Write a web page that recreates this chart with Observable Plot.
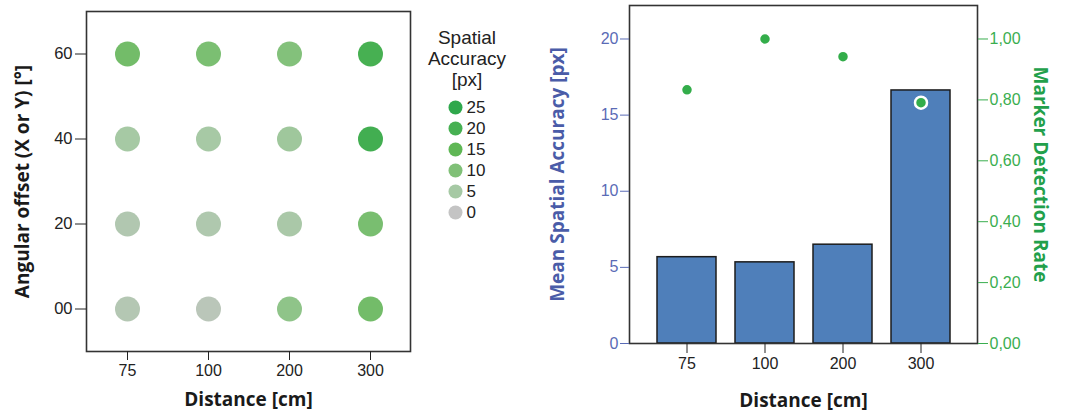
<!DOCTYPE html>
<html>
<head>
<meta charset="utf-8">
<script src="https://cdn.jsdelivr.net/npm/d3@7"></script>
<script src="https://cdn.jsdelivr.net/npm/@observablehq/plot@0.6"></script>
<style>
  body { margin: 0; background: #fff; }
  #wrap { position: relative; width: 1070px; height: 414px; overflow: hidden; }
  #wrap > * { position: absolute; top: 0; }
  #legendTitle { left: 420px; top: 27px; width: 94px; text-align: center;
    font: 19px/21px "Liberation Sans", Arial, sans-serif; color: #222; }
</style>
</head>
<body>
<div id="wrap"></div>
<script>
// ---------- data ----------
const distances = ["75", "100", "200", "300"];
const offsets = [0, 20, 40, 60];
const offsetTickLabels = ["00", "20", "40", "60"];
// spatial accuracy [px] per angular offset row, columns = distances
const accOffset0 = [2.7, 1.7, 8.0, 12.0];
const accOffset20 = [3.2, 3.5, 4.3, 11.0];
const accOffset40 = [5.0, 4.9, 5.9, 21.0];
const accOffset60 = [12.0, 10.7, 9.6, 20.0];
const legendValues = [25, 20, 15, 10, 5, 0];
const legendColors = ["#2fa84c", "#47b052", "#5fb755", "#80c077", "#a6c9a4", "#c4c4c4"];
const meanAccuracy = [5.67, 5.33, 6.49, 16.62];
const detectionRate = [0.833, 1.0, 0.942, 0.791];
const accTicks = [0, 5, 10, 15, 20];
const rateTicks = [0, 0.2, 0.4, 0.6, 0.8, 1.0];
const rateTickLabels = ["0,00", "0,20", "0,40", "0,60", "0,80", "1,00"];

// ---------- derived tables ----------
const grid = [];
[accOffset0, accOffset20, accOffset40, accOffset60].forEach((row, i) =>
  row.forEach((v, j) => grid.push({dist: distances[j], offset: offsets[i], acc: v})));
const bars = distances.map((d, i) => ({dist: d, acc: meanAccuracy[i], rate: detectionRate[i]}));
const rateToAcc = 20; // 1,00 on the right axis lines up with 20 px on the left axis

const colorScale = {
  type: "linear",
  domain: legendValues.slice().reverse(),
  range: legendColors.slice().reverse(),
  interpolate: "rgb"
};
const baseStyle = {fontFamily: "'Liberation Sans', Arial, sans-serif", fontSize: "16px", background: "transparent", overflow: "visible"};
const titleFont = "'Open Sans', sans-serif";
const titleOpts = {lineAnchor: "middle", textAnchor: "middle", fontWeight: "bold", fontFamily: titleFont, fontSize: 19};

const wrap = document.getElementById("wrap");

// ---------- left panel ----------
const left = Plot.plot({
  width: 420, height: 414,
  marginLeft: 86, marginRight: 10, marginTop: 11, marginBottom: 63,
  style: {...baseStyle, color: "#222"},
  x: {type: "point", domain: distances, padding: 0.5},
  y: {domain: [-10, 70]},
  color: colorScale,
  marks: [
    Plot.dot(grid, {x: "dist", y: "offset", fill: "acc", r: 12.5}),
    Plot.frame({stroke: "#333", strokeWidth: 1.6}),
    Plot.axisX({tickSize: 9, tickPadding: 4, fontSize: 16, label: null}),
    Plot.axisY({ticks: offsets, tickFormat: d => offsetTickLabels[offsets.indexOf(d)],
      tickSize: 11, tickPadding: 3, fontSize: 16.5, label: null}),
    Plot.text(["Distance [cm]"], {...titleOpts, text: d => d, frameAnchor: "bottom", dy: 48, fill: "#1a1a1a"}),
    Plot.text(["Angular offset (X or Y) [°]"], {...titleOpts, text: d => d, frameAnchor: "left",
      dx: -64, rotate: -90, fill: "#1a1a1a"})
  ]
});
left.style.left = "0px";
wrap.appendChild(left);

// ---------- legend ----------
const legendTitle = document.createElement("div");
legendTitle.id = "legendTitle";
legendTitle.innerHTML = "Spatial<br>Accuracy<br>[px]";
wrap.appendChild(legendTitle);

const legend = Plot.plot({
  width: 110, height: 224,
  marginLeft: 35, marginRight: 10, marginTop: 107, marginBottom: 12,
  style: {...baseStyle, color: "#222"},
  y: {type: "point", domain: legendValues, padding: 0, axis: null},
  color: colorScale,
  marks: [
    Plot.dot(legendValues, {y: d => d, fill: d => d, r: 7, frameAnchor: "left"}),
    Plot.text(legendValues, {y: d => d, text: d => String(d), frameAnchor: "left", dx: 11,
      textAnchor: "start", fontSize: 17, fill: "#222"})
  ]
});
legend.style.left = "420px";
wrap.appendChild(legend);

// ---------- right panel ----------
const right = Plot.plot({
  width: 540, height: 414,
  marginLeft: 99, marginRight: 93, marginTop: 5, marginBottom: 71,
  style: {...baseStyle, color: "#222"},
  x: {type: "band", domain: distances, paddingInner: 0.245, paddingOuter: 0.35},
  y: {domain: [0, 22.2]},
  marks: [
    Plot.barY(bars, {x: "dist", y: "acc", fill: "#4f7fba", stroke: "#1c1c1c", strokeWidth: 1.5}),
    Plot.frame({stroke: "#333", strokeWidth: 1.6}),
    Plot.dot(bars, {x: "dist", y: d => d.rate * rateToAcc, fill: "#33ad4a", r: 6,
      stroke: "#fff", strokeWidth: 2.5}),
    Plot.axisX({tickSize: 10, tickPadding: 4, fontSize: 16, label: null, color: "#222"}),
    Plot.axisY({anchor: "left", ticks: accTicks, tickSize: 9, tickPadding: 2, fontSize: 16,
      label: null, color: "#5a6bb6"}),
    Plot.axisY({anchor: "right", ticks: rateTicks.map(t => t * rateToAcc),
      tickFormat: d => rateTickLabels[rateTicks.findIndex(t => Math.abs(t * rateToAcc - d) < 1e-6)],
      tickSize: 10, tickPadding: 2, fontSize: 16, label: null, color: "#3aae4f"}),
    Plot.text(["Distance [cm]"], {...titleOpts, text: d => d, frameAnchor: "bottom", dy: 57, fill: "#1a1a1a"}),
    Plot.text(["Mean Spatial Accuracy [px]"], {...titleOpts, text: d => d, frameAnchor: "left",
      dx: -72, rotate: -90, fill: "#4a5ca8"}),
    Plot.text(["Marker Detection Rate"], {...titleOpts, text: d => d, frameAnchor: "right",
      dx: 63, rotate: 90, fill: "#22a04b"})
  ]
});
right.style.left = "530px";
wrap.appendChild(right);
</script>
</body>
</html>
